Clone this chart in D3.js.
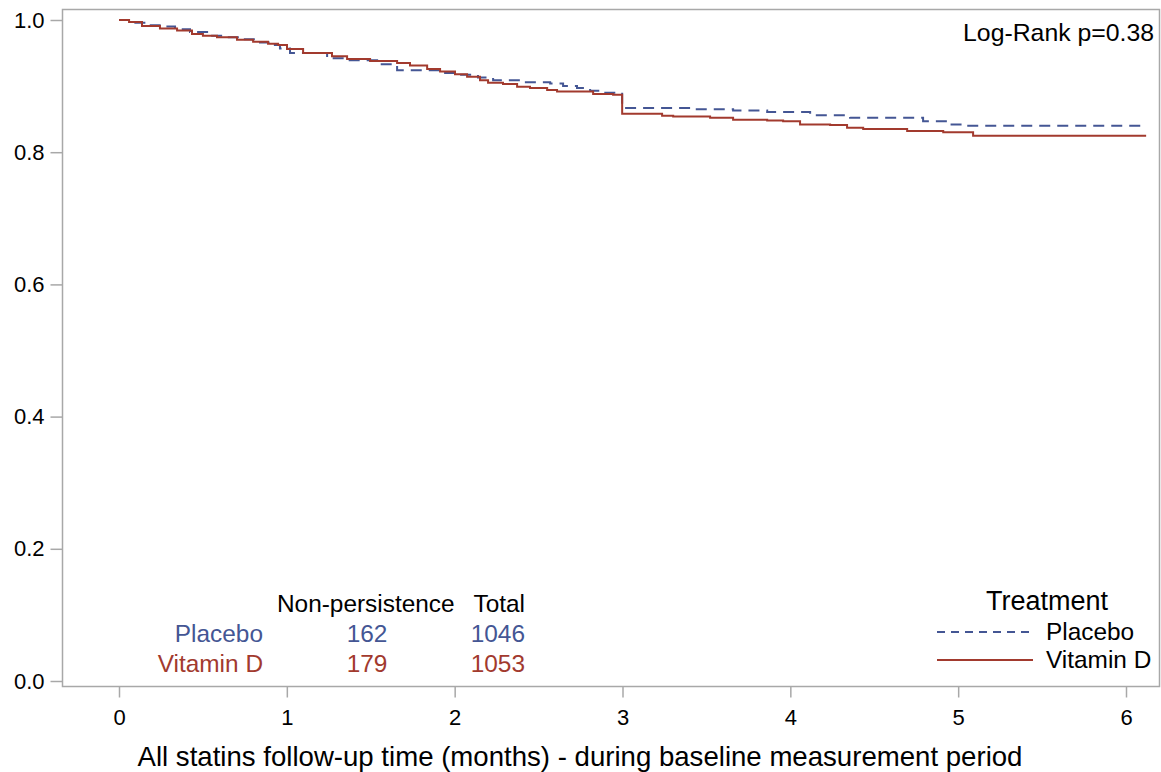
<!DOCTYPE html>
<html>
<head>
<meta charset="utf-8">
<script src="https://cdn.jsdelivr.net/npm/d3@7"></script>
<style>
  body { margin: 0; background: #fff; }
  svg { display: block; font-family: "Liberation Sans", Arial, sans-serif; }
</style>
</head>
<body>
<div id="chart"></div>
<script>
"use strict";

// Kaplan-Meier step points (months, survival)
var placeboTime = [0, 0.077, 0.167, 0.256, 0.334, 0.423, 0.542, 0.644, 0.733, 0.840, 0.900, 0.959,
  1.019, 1.240, 1.359, 1.538, 1.657, 1.913, 2.014, 2.139, 2.229, 2.390, 2.569, 2.646, 2.729,
  2.807, 2.884, 2.998, 3.403, 3.659, 3.862, 4.118, 4.356, 4.791, 4.952, 5.03, 6.12];
var placeboSurv = [1.0, 0.996, 0.992, 0.990, 0.986, 0.982, 0.976, 0.974, 0.971, 0.966, 0.962, 0.957,
  0.950, 0.942, 0.939, 0.933, 0.924, 0.920, 0.917, 0.913, 0.909, 0.906, 0.904, 0.900, 0.897,
  0.893, 0.890, 0.867, 0.865, 0.863, 0.861, 0.856, 0.852, 0.847, 0.842, 0.840, 0.840];

var vitdTime = [0, 0.06, 0.137, 0.244, 0.346, 0.435, 0.50, 0.584, 0.703, 0.799, 0.888, 0.948,
  1.001, 1.097, 1.269, 1.359, 1.496, 1.657, 1.734, 1.836, 1.913, 2.002, 2.074, 2.151, 2.199,
  2.288, 2.372, 2.449, 2.551, 2.610, 2.825, 2.944, 2.998, 3.236, 3.302, 3.522, 3.659, 3.862,
  3.957, 4.058, 4.237, 4.338, 4.434, 4.696, 4.911, 5.089, 6.12];
var vitdSurv = [1.0, 0.997, 0.991, 0.987, 0.984, 0.979, 0.976, 0.974, 0.970, 0.967, 0.964, 0.962,
  0.956, 0.950, 0.945, 0.941, 0.938, 0.935, 0.931, 0.926, 0.922, 0.918, 0.914, 0.909, 0.905,
  0.903, 0.899, 0.897, 0.894, 0.892, 0.888, 0.887, 0.858, 0.855, 0.854, 0.852, 0.849, 0.848,
  0.847, 0.842, 0.841, 0.837, 0.835, 0.832, 0.830, 0.825, 0.825];

var groups = ["Placebo", "Vitamin D"];
var nonPersistence = [162, 179];
var totals = [1046, 1053];
var xTicks = [0, 1, 2, 3, 4, 5, 6];
var yTicks = [0, 0.2, 0.4, 0.6, 0.8, 1.0];
var pValueText = "Log-Rank p=0.38";

var width = 1161, height = 772;
var colors = ["#445694", "#a23a2e"];
var axisColor = "#a8a8a8";
var font = "\"Liberation Sans\", Arial, sans-serif";

var frame = {left: 62, top: 9, right: 1159, bottom: 686};

var x = d3.scaleLinear().domain([0, 6]).range([119, 1126]);
var y = d3.scaleLinear().domain([0, 1]).range([681, 20]);

var svg = d3.select("#chart").append("svg")
  .attr("width", width)
  .attr("height", height);

// plot frame
svg.append("rect")
  .attr("x", frame.left + 0.5)
  .attr("y", frame.top + 0.5)
  .attr("width", frame.right - frame.left)
  .attr("height", frame.bottom - frame.top)
  .attr("fill", "none")
  .attr("stroke", axisColor)
  .attr("stroke-width", 1.5);

// y axis
var yAxis = svg.append("g")
  .attr("transform", "translate(" + (frame.left + 0.5) + ",0)")
  .call(d3.axisLeft(y).tickValues(yTicks).tickFormat(d3.format(".1f")).tickSize(12).tickPadding(6));
yAxis.select(".domain").remove();
yAxis.selectAll(".tick line").attr("stroke", axisColor).attr("stroke-width", 1.5);
yAxis.selectAll(".tick text")
  .attr("fill", "#000")
  .style("font-family", font)
  .style("font-size", "22px");

// x axis
var xAxis = svg.append("g")
  .attr("transform", "translate(0," + (frame.bottom + 0.5) + ")")
  .call(d3.axisBottom(x).tickValues(xTicks).tickFormat(d3.format("d")).tickSize(11).tickPadding(12));
xAxis.select(".domain").remove();
xAxis.selectAll(".tick line").attr("stroke", axisColor).attr("stroke-width", 1.5);
xAxis.selectAll(".tick text")
  .attr("fill", "#000")
  .style("font-family", font)
  .style("font-size", "22px");

svg.append("text")
  .attr("x", 580)
  .attr("y", 766)
  .attr("text-anchor", "middle")
  .style("font-size", "27.6px")
  .text("All statins follow-up time (months) - during baseline measurement period");

// curves
var series = [
  {name: groups[0], pts: d3.zip(placeboTime, placeboSurv), dash: "11,7"},
  {name: groups[1], pts: d3.zip(vitdTime, vitdSurv), dash: null}
];

var line = d3.line()
  .x(function(d) { return x(d[0]); })
  .y(function(d) { return y(d[1]); })
  .curve(d3.curveStepAfter);

svg.append("g")
  .selectAll("path")
  .data(series)
  .enter().append("path")
  .attr("d", function(d) { return line(d.pts); })
  .attr("fill", "none")
  .attr("stroke", function(d, i) { return colors[i]; })
  .attr("stroke-width", 2)
  .attr("stroke-dasharray", function(d) { return d.dash; });

// log-rank label
svg.append("text")
  .attr("x", 1154)
  .attr("y", 41)
  .attr("text-anchor", "end")
  .style("font-size", "24.8px")
  .text(pValueText);

// counts table
var table = svg.append("g").style("font-size", "24.4px");
table.append("text").attr("x", 277).attr("y", 612).text("Non-persistence");
table.append("text").attr("x", 525).attr("y", 612).attr("text-anchor", "end").text("Total");

var rows = table.selectAll("g.row")
  .data(groups)
  .enter().append("g")
  .attr("class", "row")
  .attr("fill", function(d, i) { return colors[i]; })
  .attr("transform", function(d, i) { return "translate(0," + (642 + i * 30) + ")"; });
rows.append("text").attr("x", 263).attr("text-anchor", "end").text(function(d) { return d; });
rows.append("text").attr("x", 367).attr("text-anchor", "middle").text(function(d, i) { return nonPersistence[i]; });
rows.append("text").attr("x", 525).attr("text-anchor", "end").text(function(d, i) { return totals[i]; });

// legend
var legend = svg.append("g");
legend.append("text")
  .attr("x", 1047)
  .attr("y", 610)
  .attr("text-anchor", "middle")
  .style("font-size", "27px")
  .text("Treatment");

var item = legend.selectAll("g.item")
  .data(series)
  .enter().append("g")
  .attr("class", "item")
  .attr("transform", function(d, i) { return "translate(0," + (632 + i * 28) + ")"; });
item.append("line")
  .attr("x1", 937).attr("x2", 1033)
  .attr("stroke", function(d, i) { return colors[i]; })
  .attr("stroke-width", 2)
  .attr("stroke-dasharray", function(d) { return d.dash ? "8,6" : null; });
item.append("text")
  .attr("x", 1046)
  .attr("y", 8)
  .style("font-size", "24.4px")
  .text(function(d) { return d.name; });
</script>
</body>
</html>
